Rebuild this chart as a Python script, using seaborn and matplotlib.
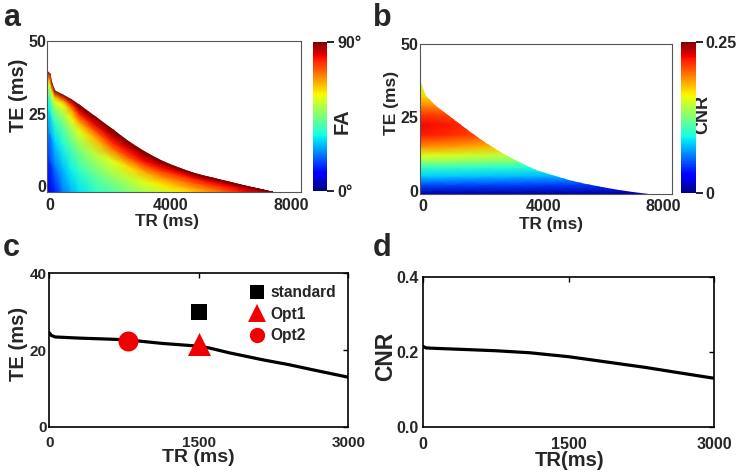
import numpy as np
import matplotlib
matplotlib.use("Agg")
import matplotlib.pyplot as plt
from matplotlib.patches import Polygon
from matplotlib.lines import Line2D
import seaborn as sns

# ---------------- data ----------------
# panel a : flip-angle map, boundary of valid region and FA at fractions of the column height
a_tr = [-90, 0, 60, 165, 420, 700, 970, 1520, 2080, 2630, 3180, 3730, 4280, 4840, 5390, 5940, 6490, 7050, 7380]
a_te_edge = [39.6, 38.7, 35.5, 32.8, 31.5, 29.9, 28.0, 23.8, 19.5, 15.2, 11.6, 8.6, 6.3, 4.3, 2.9, 1.5, 0.1, -1.2, -2.0]
a_frac = [0.0, 0.25, 0.5, 0.7, 0.8, 0.9, 0.95, 1.0]
a_fa = [
    [7, 8, 10, 14, 22, 27, 31, 36, 40, 45, 50, 54, 58, 63, 68, 74, 80, 85, 88],
    [15, 16, 18, 22, 28, 33, 37, 43, 48, 52, 56, 60, 64, 68, 72, 77, 82, 86, 88],
    [23, 24, 26, 30, 35, 41, 46, 52, 56, 61, 66, 69, 71, 74, 77, 80, 84, 87, 89],
    [32, 33, 35, 38, 43, 50, 56, 64, 72, 75, 77, 77, 77, 79, 81, 83, 86, 88, 89],
    [40, 40, 42, 45, 49, 58, 66, 73, 79, 80, 82, 81, 81, 83, 84, 85, 87, 88, 89],
    [54, 54, 55, 56, 57, 68, 79, 82, 85, 85, 86, 86, 86, 86, 87, 88, 88, 89, 90],
    [68, 68, 68, 68, 70, 78, 85, 86, 88, 88, 88, 88, 88, 88, 89, 89, 89, 90, 90],
    [88, 88, 89, 90, 90, 90, 90, 90, 90, 90, 90, 90, 90, 90, 90, 90, 90, 90, 90],
]

# panel b : CNR map
b_tr_edge = [-100, -100, 0, 90, 413, 967, 1523, 2080, 2633, 3190, 3747, 4303, 4857, 5413, 5970, 6523, 7000, 7490]
b_te_edge = [-1.0, 38.0, 35.0, 32.2, 28.7, 24.7, 20.2, 16.2, 12.8, 9.7, 7.1, 5.2, 3.5, 2.2, 1.1, 0.3, -0.4, -1.0]
b_tr = [-100, 1000, 2000, 3000, 4000, 5000, 6000, 7500]
b_te = [-1, 2, 5, 8, 10, 12, 15, 19, 22.5, 26, 29, 32, 36, 40]
b_cnr = [
    [0.010, 0.010, 0.009, 0.009, 0.008, 0.008, 0.007, 0.007],
    [0.050, 0.049, 0.048, 0.047, 0.046, 0.045, 0.044, 0.043],
    [0.083, 0.082, 0.080, 0.079, 0.077, 0.076, 0.075, 0.073],
    [0.105, 0.104, 0.102, 0.100, 0.098, 0.096, 0.094, 0.092],
    [0.133, 0.131, 0.128, 0.125, 0.122, 0.119, 0.116, 0.113],
    [0.155, 0.152, 0.148, 0.144, 0.140, 0.136, 0.132, 0.128],
    [0.190, 0.186, 0.180, 0.174, 0.168, 0.162, 0.156, 0.150],
    [0.220, 0.215, 0.208, 0.200, 0.192, 0.184, 0.176, 0.168],
    [0.225, 0.220, 0.212, 0.204, 0.196, 0.188, 0.180, 0.172],
    [0.212, 0.208, 0.200, 0.192, 0.184, 0.176, 0.168, 0.160],
    [0.192, 0.188, 0.181, 0.174, 0.167, 0.160, 0.153, 0.146],
    [0.172, 0.168, 0.162, 0.156, 0.150, 0.144, 0.138, 0.132],
    [0.150, 0.147, 0.142, 0.137, 0.132, 0.127, 0.122, 0.117],
    [0.140, 0.137, 0.132, 0.127, 0.122, 0.117, 0.112, 0.107],
]

# panel c : optimal TE vs TR
c_tr = [0, 20, 60, 140, 300, 640, 800, 1140, 1500, 1610, 1800, 2150, 2400, 2650, 3000]
c_te = [24.5, 23.8, 23.4, 23.3, 23.1, 22.8, 22.6, 21.7, 21.0, 20.5, 19.3, 17.4, 16.2, 14.8, 12.9]
pt_names = ["standard", "Opt1", "Opt2"]
pt_tr = [1500, 1500, 793]
pt_te = [30.0, 21.6, 22.4]
pt_colors = ["black", "#f00000", "#f00000"]
pt_markers = ["s", "^", "o"]

# panel d : CNR vs TR
d_tr = [0, 30, 100, 400, 740, 1100, 1500, 1945, 2290, 2630, 3000]
d_cnr = [0.215, 0.211, 0.210, 0.207, 0.2035, 0.198, 0.1875, 0.1715, 0.159, 0.145, 0.130]

# ---------------- style ----------------
sns.set_theme(style="white")
plt.rcParams["font.family"] = ["Liberation Sans", "DejaVu Sans"]
plt.rcParams["font.weight"] = "bold"
plt.rcParams["axes.labelweight"] = "bold"

W, H = 741, 475
fig = plt.figure(figsize=(W / 100, H / 100), dpi=100)


def rect(l, r, t, b):
    return [l / W, 1 - b / H, (r - l) / W, (b - t) / H]


def frame(ax, color, lw):
    for s in ax.spines.values():
        s.set_visible(True)
        s.set_color(color)
        s.set_linewidth(lw)


# ---------------- panel a ----------------
axA = fig.add_axes(rect(47.3, 300.7, 41, 192.3))
fr = np.array(a_frac)[:, None]
XA = np.tile(np.array(a_tr, float), (len(a_frac), 1))
YA = -2 + fr * (np.array(a_te_edge) + 2)[None, :]
meshA = axA.pcolormesh(XA, YA, np.array(a_fa, float), shading="gouraud",
                       cmap="jet", vmin=0, vmax=90, rasterized=True)
axA.set_xlim(-90, 8300)
axA.set_ylim(-2, 50)
axA.set_xticks([0, 4000, 8000])
axA.set_yticks([0, 25, 50])
axA.tick_params(length=0, labelsize=11.5, pad=1)
axA.tick_params(axis="x", pad=4)
frame(axA, "#555555", 0.8)
axA.set_xlabel("TR (ms)", fontsize=12.3, va="center")
axA.xaxis.set_label_coords(0.474, -0.19)
axA.set_ylabel("TE (ms)", fontsize=14.3, va="center")
axA.yaxis.set_label_coords(-0.112, 0.643)

caxA = fig.add_axes(rect(312.7, 327.3, 41.7, 191))
cbA = fig.colorbar(meshA, cax=caxA, ticks=[0, 90])
cbA.ax.set_yticklabels(["0°", "90°"])
cbA.outline.set_linewidth(0)
caxA.tick_params(length=5, width=1.2, direction="out", pad=2, labelsize=11.5, color="black", right=True)
caxA.set_ylabel("FA", fontsize=14.5, rotation=90, va="center")
caxA.yaxis.set_label_coords(1.0 + (337.5 - 327.3) / 14.6 + 0.3, 0.47)

# ---------------- panel b ----------------
axB = fig.add_axes(rect(420, 672, 44, 193.5))
XB, YB = np.meshgrid(np.array(b_tr, float), np.array(b_te, float))
meshB = axB.pcolormesh(XB, YB, np.array(b_cnr), shading="gouraud",
                       cmap="jet", vmin=0, vmax=0.25, rasterized=True)
clip = Polygon(np.column_stack([b_tr_edge, b_te_edge]), closed=True,
               transform=axB.transData)
meshB.set_clip_path(clip)
axB.set_xlim(-110, 8290)
axB.set_ylim(-1, 50)
axB.set_xticks([0, 4000, 8000])
axB.set_yticks([0, 25, 50])
axB.tick_params(length=0, labelsize=11.5, pad=1)
axB.tick_params(axis="x", pad=4)
frame(axB, "#555555", 0.8)
axB.set_xlabel("TR (ms)", fontsize=12.3, va="center")
axB.xaxis.set_label_coords(0.52, -0.21)
axB.set_ylabel("TE (ms)", fontsize=12.5, va="center")
axB.yaxis.set_label_coords(-0.115, 0.609)

caxB = fig.add_axes(rect(680.7, 696, 41.7, 193.3))
cbB = fig.colorbar(meshB, cax=caxB, ticks=[0, 0.25])
cbB.ax.set_yticklabels(["0", "0.25"])
cbB.outline.set_linewidth(0)
caxB.tick_params(length=5, width=1.2, direction="out", pad=2, labelsize=11.5, color="black", right=True)
caxB.set_ylabel("CNR", fontsize=13, rotation=90, va="center")
caxB.yaxis.set_label_coords(1.0 + (703 - 696) / 15.3, 0.52)

# ---------------- panel c ----------------
axC = fig.add_axes(rect(49.3, 348.3, 273.3, 426.7))
sns.lineplot(x=c_tr, y=c_te, color="black", linewidth=2.3, ax=axC)
sizes = [128, 275, 207]
for n, x, y, c, m, s in zip(pt_names, pt_tr, pt_te, pt_colors, pt_markers, sizes):
    sns.scatterplot(x=[x], y=[y], marker=m, s=s, color=c, linewidth=0, ax=axC,
                    legend=False, zorder=4)
handles = [Line2D([], [], ls="", marker=m, color=c, markersize=ms, markeredgewidth=0)
           for m, c, ms in zip(pt_markers, pt_colors, [9.5, 12.5, 11])]
axC.legend(handles, pt_names, loc="upper left", bbox_to_anchor=(0.647, 0.962),
           frameon=False, handlelength=1.0, handletextpad=0.4, labelspacing=0.42,
           borderaxespad=0, prop={"size": 11.2, "weight": "bold"})
axC.set_xlim(0, 3000)
axC.set_ylim(0, 40)
axC.set_xticks([0, 1500, 3000])
axC.set_yticks([0, 20, 40])
axC.tick_params(direction="in", length=3.5, width=1, top=True, right=True,
                labelsize=11, color="black")
axC.tick_params(axis="x", pad=6.5)
axC.tick_params(axis="y", pad=2)
frame(axC, "black", 1.2)
axC.set_xlabel("TR (ms)", fontsize=14, va="center")
axC.xaxis.set_label_coords(0.497, -0.2)
axC.set_ylabel("TE (ms)", fontsize=14.5, va="center")
axC.yaxis.set_label_coords(-0.104, 0.539)

# ---------------- panel d ----------------
axD = fig.add_axes(rect(423, 714, 277, 427))
sns.lineplot(x=d_tr, y=d_cnr, color="black", linewidth=2.3, ax=axD)
axD.set_xlim(0, 3000)
axD.set_ylim(0, 0.4)
axD.set_xticks([0, 1500, 3000])
axD.set_yticks([0, 0.2, 0.4])
axD.set_yticklabels(["0.0", "0.2", "0.4"])
axD.tick_params(direction="in", length=3.5, width=1, top=True, right=True,
                labelsize=11.5, color="black")
axD.tick_params(axis="x", pad=7)
axD.tick_params(axis="y", pad=3)
frame(axD, "black", 1.2)
axD.set_xlabel("TR(ms)", fontsize=14.5, va="center")
axD.xaxis.set_label_coords(0.505, -0.225)
axD.set_ylabel("CNR", fontsize=16.5, va="center")
axD.yaxis.set_label_coords(-0.127, 0.473)

# ---------------- panel letters ----------------
for letter, x, y in [("a", 3, 26), ("b", 373, 26), ("c", 3, 256), ("d", 373, 256)]:
    fig.text(x / W, 1 - y / H, letter, fontsize=22, fontweight="bold", va="baseline", ha="left")

fig.savefig("out.png", dpi=100)
